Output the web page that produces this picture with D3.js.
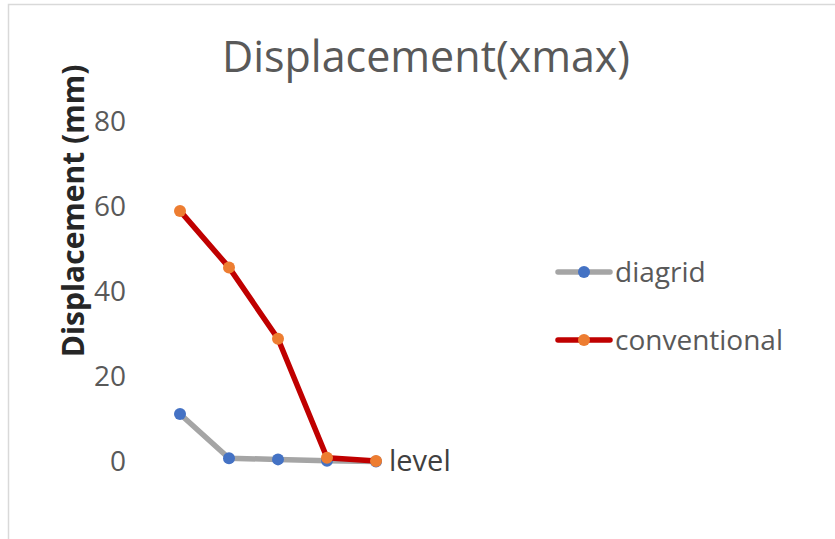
<!DOCTYPE html>
<html>
<head>
<meta charset="utf-8">
<script src="https://cdn.jsdelivr.net/npm/d3@7"></script>
<style>
  html, body { margin: 0; padding: 0; background: #fff; }
  svg { display: block; font-family: "Open Sans", Lato, sans-serif; }
</style>
</head>
<body>
<svg id="chart" width="835" height="539"></svg>
<script>
// Storey levels along the horizontal axis (labels not shown)
const levels = ["L1", "L2", "L3", "L4", "L5"];
// Maximum lateral displacement (mm) per level
const diagrid = [11.2, 0.75, 0.5, 0.2, 0.0];
const conventional = [59.0, 45.7, 28.9, 0.9, 0.1];
const yTicks = [0, 20, 40, 60, 80];
const seriesNames = ["diagrid", "conventional"];

const svg = d3.select("#chart");

// chart-area frame
svg.append("path")
  .attr("d", "M8.5,545 V4.5 H845")
  .attr("fill", "none")
  .attr("stroke", "#d9d9d9")
  .attr("stroke-width", 1.5);

const x = d3.scalePoint().domain(levels).range([180, 376]);
const y = d3.scaleLinear().domain([0, 80]).range([461.5, 121.7]);

// title
svg.append("text")
  .attr("x", 426).attr("y", 72)
  .attr("text-anchor", "middle")
  .attr("fill", "#595959")
  .style("font-size", "43px")
  .text("Displacement(xmax)");

// y axis (labels only, no line or ticks)
const yAxis = d3.axisLeft(y).tickValues(yTicks).tickSize(0).tickPadding(0);
const gy = svg.append("g").attr("transform", "translate(126,0)").call(yAxis);
gy.select(".domain").remove();
gy.selectAll("text")
  .attr("fill", "#595959")
  .style("font-size", "28px")
  .style("font-family", "'Open Sans', Lato, sans-serif");

// y axis title
svg.append("text")
  .attr("transform", "translate(84,211) rotate(-90)")
  .attr("text-anchor", "middle")
  .attr("fill", "#262626")
  .style("font-size", "30px")
  .style("font-weight", "bold")
  .text("Displacement (mm)");

// x axis title
svg.append("text")
  .attr("x", 389).attr("y", 471)
  .attr("fill", "#404040")
  .style("font-size", "29px")
  .text("level");

const series = [
  { name: seriesNames[0], values: diagrid, line: "#a5a5a5", dot: "#4472c4" },
  { name: seriesNames[1], values: conventional, line: "#c00000", dot: "#ed7d31" }
];

const line = d3.line()
  .x((d, i) => x(levels[i]))
  .y(d => y(d));

series.forEach(s => {
  const g = svg.append("g");
  g.append("path")
    .datum(s.values)
    .attr("d", line)
    .attr("fill", "none")
    .attr("stroke", s.line)
    .attr("stroke-width", 5.5)
    .attr("stroke-linejoin", "round");
  g.selectAll("circle")
    .data(s.values)
    .join("circle")
    .attr("cx", (d, i) => x(levels[i]))
    .attr("cy", d => y(d))
    .attr("r", 6)
    .attr("fill", s.dot);
});

// legend
const legend = svg.append("g");
series.forEach((s, i) => {
  const ly = 272 + i * 68;
  legend.append("line")
    .attr("x1", 558).attr("x2", 610)
    .attr("y1", ly).attr("y2", ly)
    .attr("stroke", s.line)
    .attr("stroke-width", 5.5)
    .attr("stroke-linecap", "round");
  legend.append("circle")
    .attr("cx", 584).attr("cy", ly).attr("r", 6)
    .attr("fill", s.dot);
  legend.append("text")
    .attr("x", 615).attr("y", ly + 10)
    .attr("fill", "#595959")
    .style("font-size", "28px")
    .text(s.name);
});
</script>
</body>
</html>
